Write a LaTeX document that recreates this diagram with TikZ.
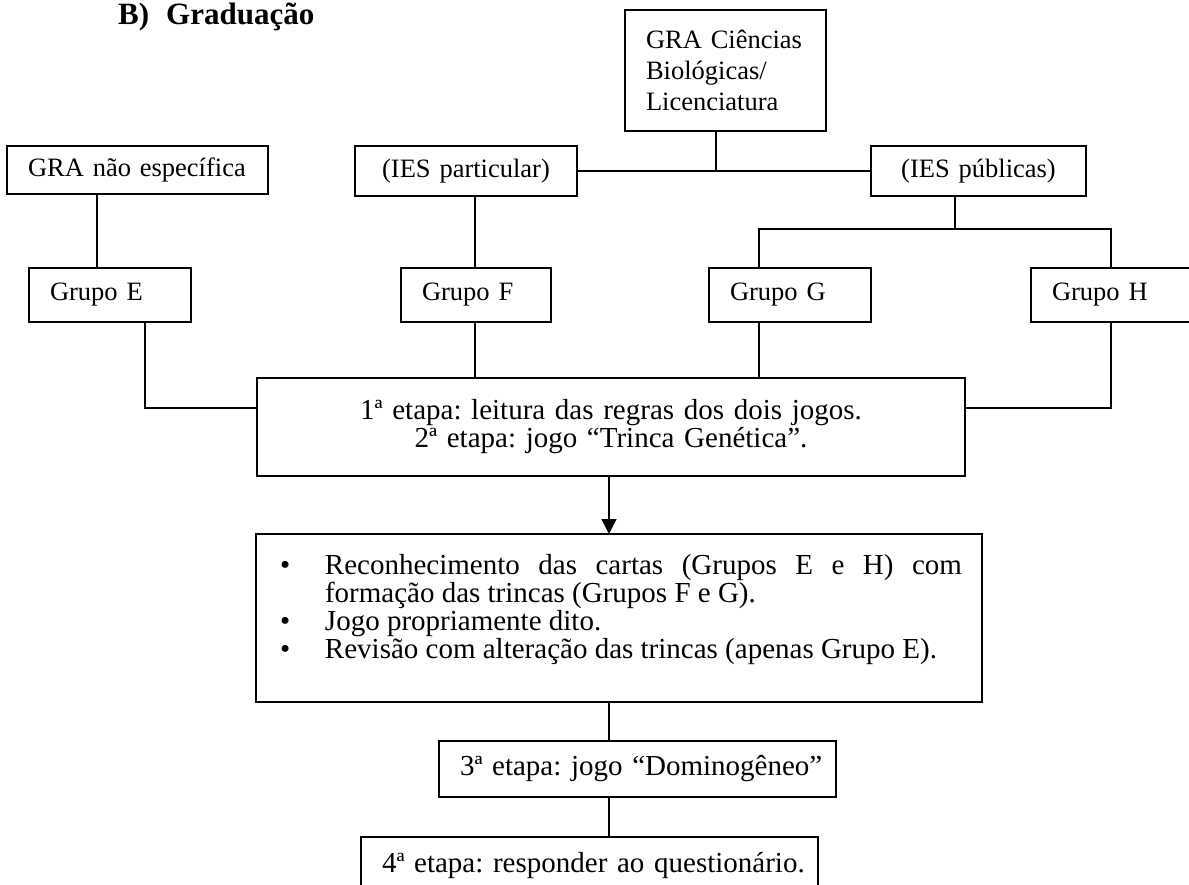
\documentclass[tikz,border=0pt]{standalone}
\usepackage{fontspec}
\setmainfont{Liberation Serif}
\usetikzlibrary{arrows.meta}
\frenchspacing
\newcommand\fsmall{\fontsize{26.5pt}{31pt}\selectfont}
\newcommand\fbig{\fontsize{29pt}{28pt}\selectfont}
\newcommand\ftitle{\fontsize{31pt}{36pt}\selectfont\bfseries}
\newcommand\bulitem{\hangindent=45pt\hangafter=1\makebox[45pt][l]{•}}
\begin{document}
\begin{tikzpicture}[x=1pt,y=-1pt,
  bx/.style={draw, line width=1.5pt, inner xsep=21pt, inner ysep=0pt, outer sep=0pt, anchor=north west},
  sm/.style={bx, font=\fsmall},
  bg/.style={bx, font=\fbig},
  ln/.style={line width=1.5pt}]
\useasboundingbox (0,0) rectangle (1189,885);
% title
\node[font=\ftitle, anchor=base west, inner sep=0pt] (title) at (118,25) {\makebox[48pt][l]{B)}Graduação};
% top boxes
\node[sm, text width=219, minimum height=48, align=left] (nao) at (7,146) {GRA não específica};
\node[sm, text width=159, minimum height=121, align=left] (cien) at (625,10) {GRA Ciências\\Biológicas/\\Licenciatura};
\node[sm, text width=180, minimum height=50, align=center] (part) at (355,146) {(IES particular)};
\node[sm, text width=173, minimum height=50, align=center] (pub) at (871,146) {(IES públicas)};
% groups
\node[sm, text width=120, minimum height=54, align=left] (gE) at (29,268) {Grupo E};
\node[sm, text width=108, minimum height=54, align=left] (gF) at (401,268) {Grupo F};
\node[sm, text width=120, minimum height=54, align=left] (gG) at (709,268) {Grupo G};
\node[sm, text width=122, minimum height=54, align=left] (gH) at (1031,268) {Grupo H};
% main
\node[bg, text width=666, minimum height=98, align=center] (main) at (257,378) {1ª etapa: leitura das regras dos dois jogos.\\2ª etapa: jogo “Trinca Genética”.};
% bullets
\node[draw, line width=1.5pt, inner sep=0pt, outer sep=0pt, anchor=north west, font=\fbig] (bul) at (256,534) {\begin{minipage}[b][168pt][t]{726pt}\vspace*{20pt}%
\setlength\parindent{0pt}\setlength\leftskip{24pt}\setlength\rightskip{20pt}\hyphenpenalty=10000 \exhyphenpenalty=10000
\bulitem Reconhecimento das cartas (Grupos E e H) com\linebreak formação das trincas (Grupos F e G).\par
\bulitem Jogo propriamente dito.\par
\bulitem Revisão com alteração das trincas (apenas Grupo E).\par
\end{minipage}};
% steps
\node[bg, text width=355, minimum height=56, align=left] (e3) at (439,741) {\mbox{3ª etapa: jogo “Dominogêneo”}};
\node[bg, text width=415, minimum height=56, align=left] (e4) at (361,837) {\mbox{4ª etapa: responder ao questionário.}};
% junction coordinates
\coordinate (xa) at (97,0);
\coordinate (xb) at (145,0);
\coordinate (xf) at (475,0);
\coordinate (xc) at (716,0);
\coordinate (jp) at (955,229);
\coordinate (xg) at (759,0);
\coordinate (xh) at (1111,0);
\coordinate (yl) at (0,408);
\coordinate (xm) at (609,0);
% connectors
\draw[ln] (nao.south -| xa) -- (gE.north -| xa);
\draw[ln] (gE.south -| xb) |- (main.west |- yl);
\draw[ln] (part.south -| xf) -- (gF.north -| xf);
\draw[ln] (gF.south -| xf) -- (main.north -| xf);
\draw[ln] (part.east) -- (pub.west);
\draw[ln] (cien.south -| xc) -- (xc |- part.east);
\draw[ln] (pub.south -| jp) -- (jp);
\draw[ln] (gG.north -| xg) |- (jp) -| (gH.north -| xh);
\draw[ln] (gG.south -| xg) -- (main.north -| xg);
\draw[ln] (gH.south -| xh) |- (main.east |- yl);
\draw[ln, -{Triangle[length=15pt,width=15pt]}] (main.south -| xm) -- (bul.north -| xm);
\draw[ln] (bul.south -| xm) -- (e3.north -| xm);
\draw[ln] (e3.south -| xm) -- (e4.north -| xm);
\end{tikzpicture}
\end{document}
